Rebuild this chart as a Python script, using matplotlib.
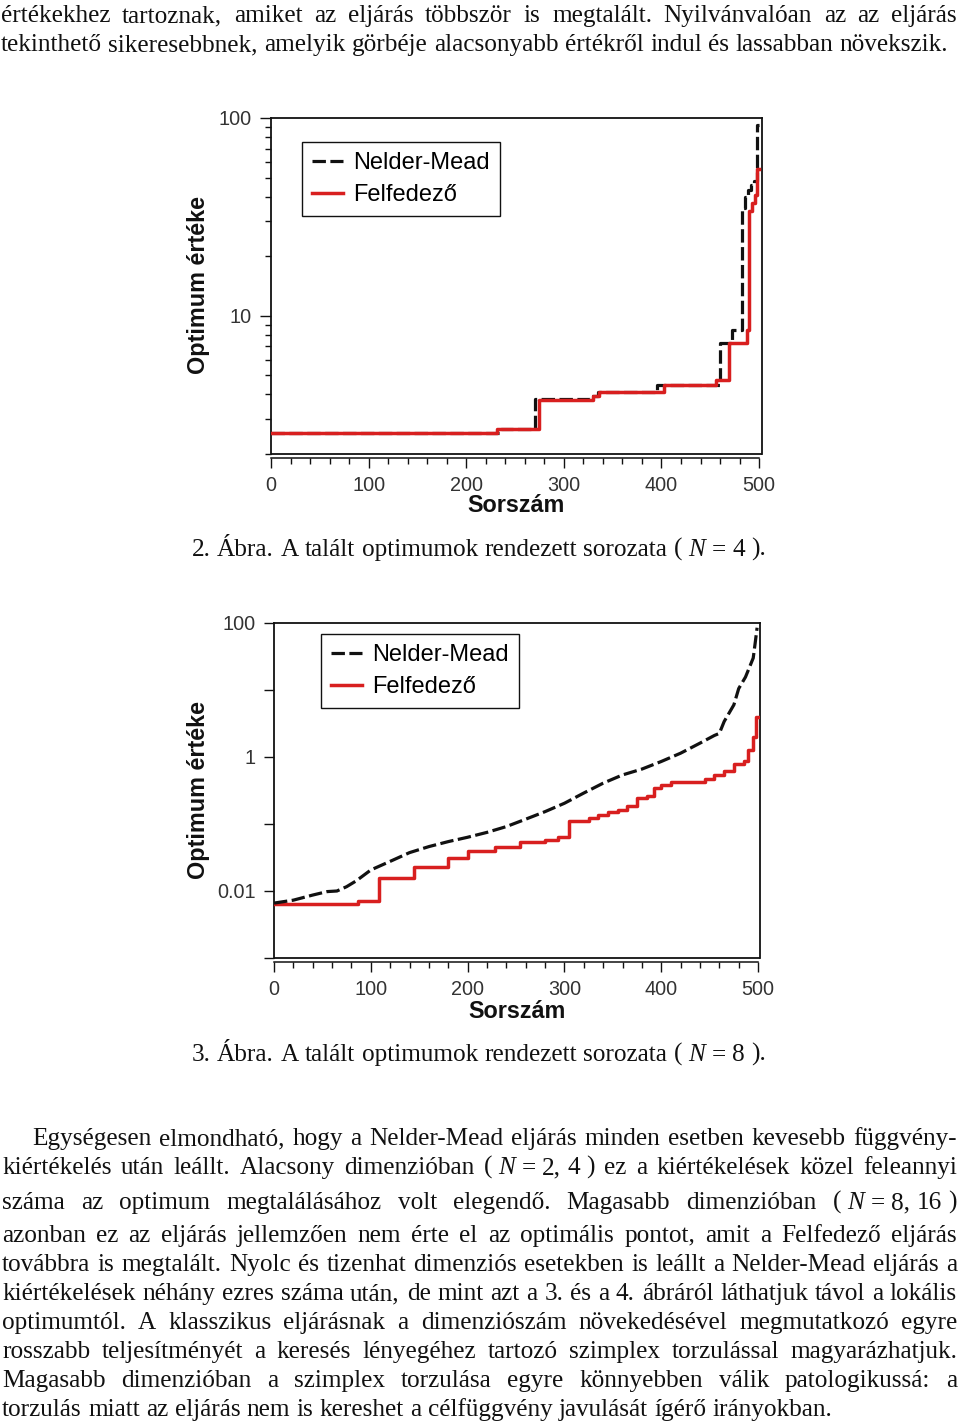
import matplotlib
matplotlib.use('Agg')
import matplotlib.pyplot as plt
from matplotlib.ticker import FixedLocator, MultipleLocator, NullLocator, FuncFormatter

# ---------------- data ----------------
# Figure 2 (N = 4): sorted optimum values, step breakpoints
N4_NM_X = [0, 236, 270, 327, 335, 395, 460, 472, 483, 486, 489, 492, 495, 498, 500]
N4_NM_Y = [2.55, 2.67, 3.80, 3.95, 4.13, 4.49, 7.3, 8.5, 35, 40, 43, 46, 48, 92, 92]
N4_FE_X = [0, 232, 275, 330, 336, 403, 456, 469, 488, 490, 493, 496, 498, 500]
N4_FE_Y = [2.55, 2.67, 3.77, 3.95, 4.13, 4.49, 4.75, 7.3, 8.5, 34, 37, 41, 55, 55]

# Figure 3 (N = 8)
N8_NM_X = [0, 20, 40, 55, 65, 75, 85, 100, 120, 140, 160, 180, 200, 220, 240, 260,
           280, 300, 320, 340, 360, 380, 400, 420, 440, 455, 460, 465, 475, 480,
           487, 495, 497, 499]
N8_NM_Y = [0.0066, 0.0073, 0.0087, 0.0098, 0.010, 0.0116, 0.0142, 0.0206, 0.0277,
           0.0374, 0.046, 0.0546, 0.0634, 0.075, 0.0915, 0.118, 0.153, 0.204, 0.29,
           0.407, 0.54, 0.66, 0.857, 1.14, 1.61, 2.1, 2.25, 3.39, 6.0, 10.5, 15.6,
           30, 50, 85]
N8_FE_X = [0, 87, 108, 145, 180, 200, 228, 254, 280, 293, 305, 325, 335, 345, 355,
           365, 375, 385, 392, 400, 410, 445, 455, 465, 475, 485, 490, 495, 498, 500]
N8_FE_Y = [0.0065, 0.0070, 0.0155, 0.0225, 0.031, 0.040, 0.046, 0.0533, 0.0578,
           0.065, 0.109, 0.122, 0.135, 0.150, 0.160, 0.186, 0.243, 0.26, 0.342, 0.38,
           0.43, 0.47, 0.54, 0.62, 0.78, 0.88, 1.28, 2.02, 3.9, 3.9]

SERIES_LABELS = ['Nelder-Mead', 'Felfedező']
X_LABEL = 'Sorszám'
Y_LABEL = 'Optimum értéke'
CAPTIONS = ['2. Ábra. A talált optimumok rendezett sorozata (~N~=~4~).',
            '3. Ábra. A talált optimumok rendezett sorozata (~N~=~8~).']

TOP_LINES = [
    "értékekhez tartoznak, amiket az eljárás többször is megtalált. Nyilvánvalóan az az eljárás",
    "tekinthető sikeresebbnek, amelyik görbéje alacsonyabb értékről indul és lassabban növekszik.",
]
BODY_LINES = [
    "Egységesen elmondható, hogy a Nelder-Mead eljárás minden esetben kevesebb függvény-",
    "kiértékelés után leállt. Alacsony dimenzióban (~N~=~2,~4~) ez a kiértékelések közel feleannyi",
    "száma az optimum megtalálásához volt elegendő. Magasabb dimenzióban (~N~=~8,~16~)",
    "azonban ez az eljárás jellemzően nem érte el az optimális pontot, amit a Felfedező eljárás",
    "továbbra is megtalált. Nyolc és tizenhat dimenziós esetekben is leállt a Nelder-Mead eljárás a",
    "kiértékelések néhány ezres száma után, de mint azt a 3. és a 4. ábráról láthatjuk távol a lokális",
    "optimumtól. A klasszikus eljárásnak a dimenziószám növekedésével megmutatkozó egyre",
    "rosszabb teljesítményét a keresés lényegéhez tartozó szimplex torzulással magyarázhatjuk.",
    "Magasabb dimenzióban a szimplex torzulása egyre könnyebben válik patologikussá: a",
    "torzulás miatt az eljárás nem is kereshet a célfüggvény javulását ígérő irányokban.",
]

# ---------------- figure ----------------
W, H = 960, 1425
fig = plt.figure(figsize=(W / 100, H / 100), dpi=100)
fig.patch.set_facecolor('white')
SANS = 'Liberation Sans'
SERIF = 'Liberation Serif'
INK = '#111111'
TICKC = '#333333'
RED = '#d81f1f'
TICKFS = 14.3


def add_ax(l, t, r, b):
    return fig.add_axes([l / W, 1 - b / H, (r - l) / W, (b - t) / H])


def style_axes(ax, xmax, ylim):
    ax.set_yscale('log')
    ax.set_xlim(0, xmax)
    ax.set_ylim(*ylim)
    for s in ['top', 'right', 'left', 'bottom']:
        ax.spines[s].set_linewidth(1.3)
        ax.spines[s].set_color(INK)
    ax.spines['bottom'].set_position(('outward', 3))
    ax.spines['bottom'].set_bounds(0, 500)
    ax.spines['bottom'].set_linewidth(1.1)
    ax.plot([0, 1], [0, 0], transform=ax.transAxes, color=INK, lw=1.3,
            clip_on=False, solid_capstyle='butt')
    ax.xaxis.set_major_locator(MultipleLocator(100))
    ax.xaxis.set_minor_locator(MultipleLocator(20))
    ax.tick_params(axis='x', which='major', length=7, width=1, pad=5.5,
                   color=INK, labelcolor=TICKC, labelsize=TICKFS)
    ax.tick_params(axis='x', which='minor', length=4.3, width=1, color=INK)
    for lab in ax.get_xticklabels():
        lab.set_family(SANS)
    ax.set_facecolor('white')


def legend(ax, lx, ty, handles):
    lg = ax.legend(handles, SERIES_LABELS, loc='upper left',
                   bbox_to_anchor=(lx / W, 1 - ty / H), bbox_transform=fig.transFigure,
                   frameon=True, fancybox=False, edgecolor=INK, framealpha=1,
                   borderaxespad=0, prop=dict(family=SANS, size=17),
                   handlelength=1.3, handletextpad=0.45, labelspacing=0.42,
                   borderpad=0.42)
    lg.get_frame().set_linewidth(1.0)


# ---- Figure 2 ----
ax1 = add_ax(271, 118, 762, 454)
style_axes(ax1, 503, (2, 100))
l_nm, = ax1.step(N4_NM_X, N4_NM_Y, where='post', color=INK, lw=2.3,
                 linestyle=(0, (4.2, 1.4)), zorder=3)
l_fe, = ax1.step(N4_FE_X, N4_FE_Y, where='post', color=RED, lw=2.5, zorder=4)
ax1.yaxis.set_major_locator(FixedLocator([10, 100]))
ax1.yaxis.set_minor_locator(FixedLocator([2, 3, 4, 5, 6, 7, 8, 9, 20, 30, 40, 50, 60, 70, 80, 90]))
ax1.yaxis.set_major_formatter(FuncFormatter(lambda v, p: f'{v:g}'))
ax1.yaxis.set_minor_formatter(FuncFormatter(lambda v, p: ''))
ax1.tick_params(axis='y', which='major', length=8, width=1, pad=6,
                color=INK, labelcolor=TICKC, labelsize=TICKFS)
ax1.tick_params(axis='y', which='minor', length=4.3, width=1, color=INK)
for lab in ax1.get_yticklabels():
    lab.set_family(SANS)
legend(ax1, 302, 142, [l_nm, l_fe])

# ---- Figure 3 ----
ax2 = add_ax(274, 623, 760, 958)
style_axes(ax2, 502, (0.001, 100))
m_fe, = ax2.step(N8_FE_X, N8_FE_Y, where='post', color=RED, lw=2.5, zorder=3)
m_nm, = ax2.plot(N8_NM_X, N8_NM_Y, color=INK, lw=2.3,
                 linestyle=(0, (4.2, 1.4)), zorder=4)
ax2.yaxis.set_major_locator(FixedLocator([0.001, 0.01, 0.1, 1, 10, 100]))
ax2.yaxis.set_minor_locator(NullLocator())
LBL2 = {0.01: '0.01', 1: '1', 100: '100'}
ax2.yaxis.set_major_formatter(FuncFormatter(
    lambda v, p: next((t for k, t in LBL2.items() if abs(v / k - 1) < 1e-6), '')))
ax2.tick_params(axis='y', which='major', length=7, width=1, pad=6,
                color=INK, labelcolor=TICKC, labelsize=TICKFS)
for lab in ax2.get_yticklabels():
    lab.set_family(SANS)
legend(ax2, 321, 634, [m_nm, m_fe])

# axis titles
for (xc, yc, xl, yl) in [(516, 506, 199, 285), (517, 1011, 198, 790)]:
    fig.text(xc / W, 1 - yc / H, X_LABEL, ha='center', va='center',
             family=SANS, weight='bold', size=16.8, color=INK)
    fig.text(xl / W, 1 - yl / H, Y_LABEL, ha='center', va='center', rotation=90,
             family=SANS, weight='bold', size=16.8, color=INK)

# ---------------- running text ----------------
renderer = fig.canvas.get_renderer()


def measure(s, fs, style='normal'):
    t = fig.text(0, 0, s, fontsize=fs, family=SERIF, style=style)
    w = t.get_window_extent(renderer).width
    t.remove()
    return w


base_fs = 10.0
w10 = measure(TOP_LINES[1], base_fs)
FS = base_fs * 948.0 / w10
SPACE = measure('n n', FS) - measure('nn', FS)


def layout(line, y_base, x0, x1, mode):
    groups = line.split(' ')
    made = []
    for g in groups:
        items = []
        for s in g.split('~'):
            st = 'italic' if s == 'N' else 'normal'
            a = fig.text(0, 1 - y_base / H, s, fontsize=FS, family=SERIF, style=st,
                         va='baseline', ha='left', color=INK)
            items.append((a, a.get_window_extent(renderer).width))
        gw = sum(w for _, w in items) + SPACE * (len(items) - 1)
        made.append((items, gw))
    total = sum(gw for _, gw in made)
    n = len(made)
    if mode == 'justify' and n > 1:
        gap = (x1 - x0 - total) / (n - 1)
        x = x0
    else:
        gap = SPACE
        if mode == 'center':
            x = (x0 + x1) / 2 - (total + gap * (n - 1)) / 2
        else:
            x = x0
    for items, gw in made:
        for a, w in items:
            a.set_x(x / W)
            x += w + SPACE
        x -= SPACE
        x += gap


layout(TOP_LINES[0], 22, 1, 957, 'justify')
layout(TOP_LINES[1], 51, 1, 957, 'left')
layout(CAPTIONS[0], 556, 193, 765, 'center')
layout(CAPTIONS[1], 1061, 193, 765, 'center')

body_bases = [1145, 1174, 1209, 1242, 1271, 1300, 1329, 1358, 1387, 1416]
for i, (ln, yb) in enumerate(zip(BODY_LINES, body_bases)):
    x0 = 32 if i == 0 else 2
    mode = 'left' if i == len(BODY_LINES) - 1 else 'justify'
    layout(ln, yb, x0, 957, mode)

fig.savefig('out.png', dpi=100, facecolor='white')
